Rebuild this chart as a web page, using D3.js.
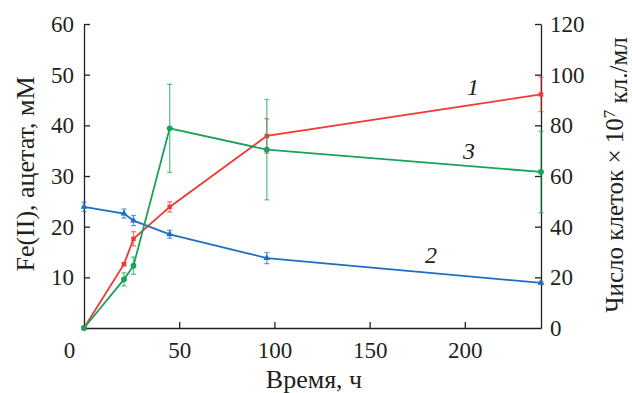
<!DOCTYPE html>
<html>
<head>
<meta charset="utf-8">
<script src="https://cdn.jsdelivr.net/npm/d3@7"></script>
<style>
  body { margin: 0; background: #fff; }
  svg text { font-family: "Liberation Serif", "DejaVu Serif", serif; fill: #231f20; }
</style>
</head>
<body>
<div class="chart"></div>
<script>
// data
var times = [0, 21, 26, 45, 96, 240];
var feValues = [0, 12.6, 17.6, 23.9, 37.9, 46.1];   // curve 1, left axis
var feErrors = [0.3, 0.3, 1.4, 1.0, 3.4, 3.4];
var acetateValues = [23.9, 22.6, 21.2, 18.5, 13.8, 8.9];   // curve 2, left axis
var acetateErrors = [0.9, 0.9, 1.0, 0.8, 1.1, 0.3];
var cellValues = [0, 19.2, 24.6, 78.8, 70.4, 61.6];   // curve 3, right axis
var cellErrors = [0, 2.6, 3.4, 17.4, 19.8, 16.1];

var xTicks = [0, 50, 100, 150, 200];
var leftTicks = [10, 20, 30, 40, 50, 60];
var rightTicks = [0, 20, 40, 60, 80, 100, 120];

var svgWidth = 632;
var svgHeight = 393;
var margin = { top: 24, right: 91, bottom: 65, left: 84 };
var width = svgWidth - margin.left - margin.right;
var height = svgHeight - margin.top - margin.bottom;

var svg = d3.select(".chart")
    .append("svg")
    .attr("width", svgWidth)
    .attr("height", svgHeight);

var chartGroup = svg.append("g")
    .attr("transform", `translate(${margin.left}, ${margin.top})`);

// scales
var xScale = d3.scaleLinear().domain([0, 240]).range([0, width]);
var yLeft = d3.scaleLinear().domain([0, 60]).range([height, 0]);
var yRight = d3.scaleLinear().domain([0, 120]).range([height, 0]);

// axes, ticks pointing inwards
var bottomAxis = d3.axisBottom(xScale).tickValues(xTicks).tickSize(-6).tickSizeOuter(0).tickPadding(14);
var leftAxis = d3.axisLeft(yLeft).tickValues(leftTicks).tickSize(-6).tickSizeOuter(0).tickPadding(10);
var rightAxis = d3.axisRight(yRight).tickValues(rightTicks).tickSize(-6).tickSizeOuter(0).tickPadding(9);

var gx = chartGroup.append("g").attr("transform", `translate(0, ${height})`).call(bottomAxis);
var gl = chartGroup.append("g").call(leftAxis);
var gr = chartGroup.append("g").attr("transform", `translate(${width}, 0)`).call(rightAxis);

[gx, gl, gr].forEach(function(g) {
    g.selectAll("path.domain").attr("stroke", "#231f20").attr("stroke-width", 1.3);
    g.selectAll(".tick line").attr("stroke", "#231f20").attr("stroke-width", 1.3);
    g.selectAll("text").style("font-size", "23px").attr("fill", "#231f20");
});
// the x "0" sits left of the origin, no tick mark there
gx.selectAll(".tick").filter(d => d === 0).select("text").attr("x", -15);
gx.selectAll(".tick").filter(d => d === 0).select("line").remove();
gr.selectAll(".tick").filter(d => d === 0).select("line").remove();

// series
var series = [
    { values: feValues, errors: feErrors, y: yLeft, color: "#ee3a33", marker: "square" },
    { values: acetateValues, errors: acetateErrors, y: yLeft, color: "#1f6fbe", marker: "triangle" },
    { values: cellValues, errors: cellErrors, y: yRight, color: "#17a35a", marker: "circle" }
];

var line = d3.line();

series.forEach(function(s) {
    var pts = times.map((t, i) => ({ t: t, v: s.values[i], e: s.errors[i] }));
    var g = chartGroup.append("g");

    // error bars
    var eb = g.selectAll(".err").data(pts.filter(d => d.e > 0)).enter().append("g")
        .attr("stroke", s.color).attr("stroke-opacity", 0.65).attr("stroke-width", 1.3);
    eb.append("line")
        .attr("x1", d => xScale(d.t)).attr("x2", d => xScale(d.t))
        .attr("y1", d => s.y(d.v - d.e)).attr("y2", d => s.y(d.v + d.e));
    eb.append("line")
        .attr("x1", d => xScale(d.t) - 2.5).attr("x2", d => xScale(d.t) + 2.5)
        .attr("y1", d => s.y(d.v + d.e)).attr("y2", d => s.y(d.v + d.e));
    eb.append("line")
        .attr("x1", d => xScale(d.t) - 2.5).attr("x2", d => xScale(d.t) + 2.5)
        .attr("y1", d => s.y(d.v - d.e)).attr("y2", d => s.y(d.v - d.e));

    g.append("path")
        .attr("d", line(pts.map(d => [xScale(d.t), s.y(d.v)])))
        .attr("fill", "none")
        .attr("stroke", s.color)
        .attr("stroke-width", 1.8);

    var sym = s.marker === "square" ? d3.symbolSquare : s.marker === "triangle" ? d3.symbolTriangle : d3.symbolCircle;
    g.selectAll(".pt").data(pts).enter().append("path")
        .attr("transform", d => `translate(${xScale(d.t)}, ${s.y(d.v)})`)
        .attr("d", d3.symbol().type(sym).size(s.marker === "circle" ? 26 : 20))
        .attr("fill", s.color);
});

// curve numbers
var curveLabels = [
    { text: "1", x: 473, y: 95 },
    { text: "3", x: 469, y: 159 },
    { text: "2", x: 431, y: 263 }
];
svg.selectAll(".clabel").data(curveLabels).enter().append("text")
    .attr("x", d => d.x)
    .attr("y", d => d.y)
    .attr("text-anchor", "middle")
    .style("font-size", "24px")
    .style("font-style", "italic")
    .text(d => d.text);

// axis titles
svg.append("text")
    .attr("x", 314)
    .attr("y", 388)
    .attr("text-anchor", "middle")
    .style("font-size", "26px")
    .text("Время, ч");

svg.append("text")
    .attr("transform", "translate(34, 174) rotate(-90)")
    .attr("text-anchor", "middle")
    .style("font-size", "26px")
    .text("Fe(II), ацетат, мМ");

var rt = svg.append("text")
    .attr("transform", "translate(623, 175) rotate(-90)")
    .attr("text-anchor", "middle")
    .style("font-size", "25px");
rt.append("tspan").text("Число клеток × 10");
rt.append("tspan").attr("dy", "-0.45em").style("font-size", "17px").text("7");
rt.append("tspan").attr("dy", "0.45em").text(" кл./мл");
</script>
</body>
</html>
